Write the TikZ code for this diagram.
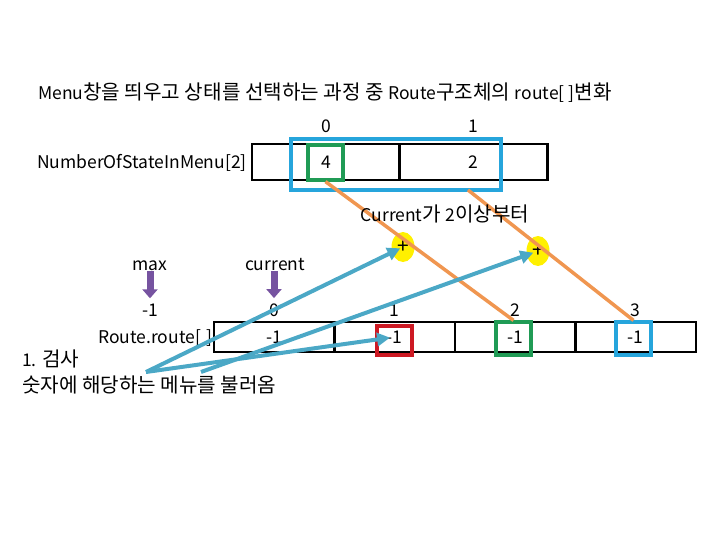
\documentclass[tikz,border=0pt]{standalone}
\usepackage{fontspec}
\setmainfont{Noto Sans CJK KR}
\newfontfamily\krfont{Noto Sans CJK KR}[Scale=1.15]
\newcommand{\kr}[1]{{\krfont #1}}
\usepackage{xcolor}
\usetikzlibrary{arrows.meta,positioning,shapes.geometric}
\definecolor{callblue}{RGB}{75,168,198}
\definecolor{boxblue}{RGB}{38,165,220}
\definecolor{boxgreen}{RGB}{32,155,85}
\definecolor{boxred}{RGB}{205,25,35}
\definecolor{feedorange}{RGB}{240,150,80}
\definecolor{ptrviolet}{RGB}{118,83,160}
\definecolor{spot}{RGB}{255,240,0}

\begin{document}
\begin{tikzpicture}[x=1pt,y=-1pt,
  txt/.style={font=\fontsize{17.5}{21}\selectfont,inner sep=0pt},
  cell/.style={draw,line width=2.5pt,minimum height=#1,inner sep=0pt,font=\fontsize{17.5}{21}\selectfont},
  hl/.style={draw=#1,line width=3.2pt,inner sep=0pt},
  spotlight/.style={ellipse,fill=spot,minimum width=23pt,minimum height=30pt,inner sep=0pt,font=\fontsize{21}{21}\selectfont},
  feed/.style={feedorange,line width=3.5pt},
  call/.style={callblue,line width=4pt,-{Triangle[length=13pt,width=13pt]}},
  ptr/.style={ptrviolet,line width=7pt,-{Triangle[length=9pt,width=15pt]}}]
\useasboundingbox (0,0) rectangle (720,540);
\node[cell=36pt,minimum width=148pt] (n0) at (326,162) {4};
\node[cell=36pt,minimum width=148pt] (n1) at (473.5,162) {2};
\foreach \i/\x in {0/274,1/394.5,2/515,3/635.5}
  \node[cell=30pt,minimum width=120.5pt] (r\i) at (\x,337) {-1};
\node[hl=boxblue,minimum width=210pt,minimum height=51pt] (sel) at (396,164.5) {};
\node[hl=boxgreen,minimum width=35pt,minimum height=35pt] (g0) at (325.5,162.5) {};
\node[hl=boxred,minimum width=35pt,minimum height=29pt] (k1) at (394.5,340.5) {};
\node[hl=boxgreen,minimum width=35pt,minimum height=33pt] (g2) at (513.5,338.5) {};
\node[hl=boxblue,minimum width=35pt,minimum height=33pt] (b3) at (633.5,338.5) {};
\node[spotlight] (y1) at (403,247) {+};
\node[spotlight] (y2) at (538,251) {+};
\coordinate (selfoot) at (468,190);
\draw[feed] (g0.south) -- (g2.north);
\draw[feed] (selfoot) -- (b3.north);
\node[txt,anchor=base west] (title) at (38,100) {Menu\kr{창을 띄우고 상태를 선택하는 과정 중 }Route\kr{구조체의 }route[ ]\kr{변화}};
\node[txt,anchor=base] (i0) at (326,133) {0};
\node[txt,anchor=base] (i1) at (473,133) {1};
\node[txt,anchor=base east] (arrname) at (247,169) {NumberOfStateInMenu[2]};
\node[txt,anchor=base] (cond) at (445,222) {Current\kr{가 }2\kr{이상부터}};
\node[txt,anchor=base] (maxl) at (150,270) {max};
\node[txt,anchor=base] (curl) at (275,270) {current};
\node[txt,anchor=base] (maxv) at (150,316) {-1};
\node[txt,anchor=base] (curv) at (274,316) {0};
\node[txt,anchor=base] (j1) at (394.5,316) {1};
\node[txt,anchor=base] (j2) at (515,316) {2};
\node[txt,anchor=base] (j3) at (635.5,316) {3};
\node[txt,anchor=base east] (rname) at (213,343) {Route.route[\,\,]};
\node[txt,anchor=base west] (note1) at (22,366) {1. \kr{검사}};
\node[txt,anchor=base west] (note2) at (22,392) {\kr{숫자에 해당하는 메뉴를 불러옴}};
\coordinate (s1) at (146,372);
\coordinate (s2) at (201,372);
\draw[call,shorten >=3pt] (s1) -- (y1.center);
\draw[call,shorten >=4.5pt] (s1) -- (r1.center);
\draw[call,shorten >=5pt] (s2) -- (y2.center);
\draw[ptr,shorten <=1pt,shorten >=5pt] (maxl) -- (maxv);
\draw[ptr,shorten <=1pt,shorten >=5pt] (curl.south -| curv) -- (curv);
\end{tikzpicture}
\end{document}
